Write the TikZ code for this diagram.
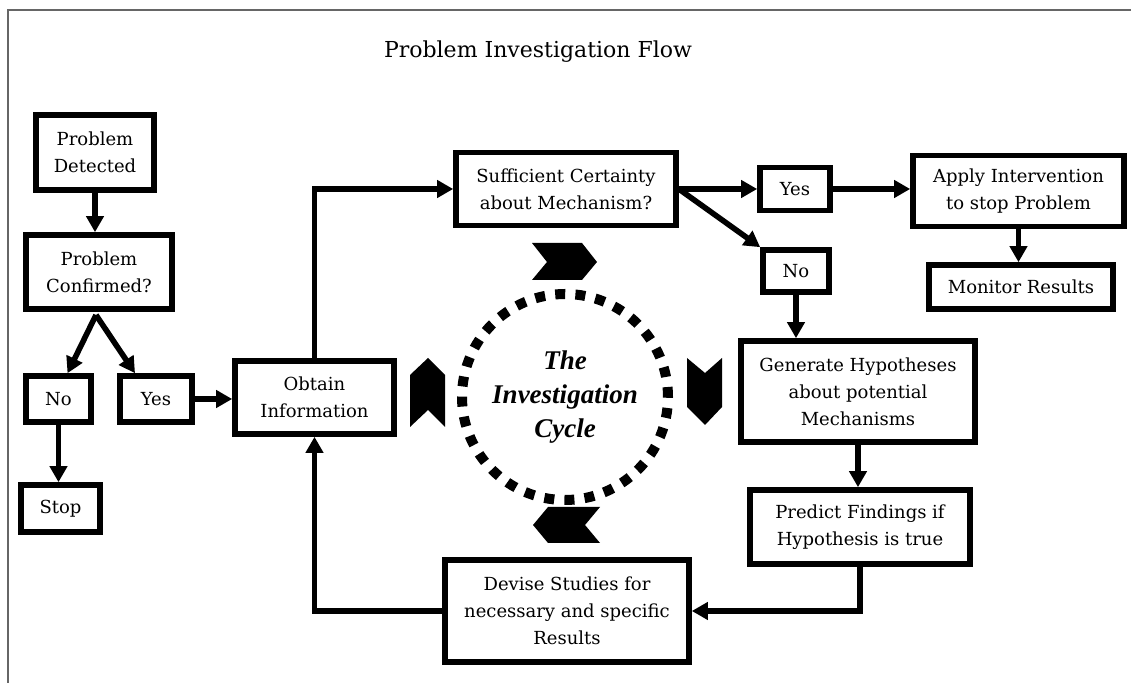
\documentclass[tikz,border=0pt]{standalone}
\usepackage{fontspec}
\setmainfont{DejaVu Serif}
\newfontfamily\cyclefont{Liberation Serif}
\usepackage{tikz}
\usetikzlibrary{arrows.meta}
\tikzstyle{flowBox} = [draw, rectangle, line width=2.8pt, align=center,
   inner sep=2pt, font=\fontsize{9}{13.5}\selectfont]
\tikzstyle{flowArrow} = [line width=2.8pt, -{Triangle[length=8pt,width=8.5pt]}]
\tikzstyle{cycleRing} = [draw, circle, line width=5pt,
   dash pattern=on 5pt off 5.1pt, minimum size=103pt, align=center,
   font=\cyclefont\fontsize{13.5}{17}\selectfont\bfseries\itshape]
\tikzstyle{chevronFill} = [fill=black]

\begin{document}
\begin{tikzpicture}[x=0.5pt, y=-0.5pt]
  \useasboundingbox (0,0) rectangle (1131,683);
  \draw[black!60, line width=0.8pt] (8,683) -- (8,10) -- (1131,10);
  \node[font=\fontsize{11}{14}\selectfont] (title) at (538,52) {Problem Investigation Flow};

  % left column
  \node[flowBox, minimum width=59pt, minimum height=37.5pt] (detected) at (95,152.5) {Problem\\Detected};
  \node[flowBox, minimum width=73pt, minimum height=37pt] (confirmed) at (99,272) {Problem\\Confirmed?};
  \coordinate (split) at (96,315);
  \node[flowBox, minimum width=32.5pt, minimum height=23pt] (noA) at (58.5,399) {No};
  \node[flowBox, minimum width=36pt, minimum height=23pt] (yesA) at (156,399) {Yes};
  \node[flowBox, minimum width=39.5pt, minimum height=23.5pt] (stop) at (60.5,508.5) {Stop};

  % the cycle
  \node[flowBox, minimum width=79.5pt, minimum height=36.5pt] (obtain) at (314.5,397.5) {Obtain\\Information};
  \node[flowBox, minimum width=110pt, minimum height=36.5pt] (certain) at (566,189) {Sufficient Certainty\\about Mechanism?};
  \node[flowBox, minimum width=33pt, minimum height=21pt] (noB) at (796,271) {No};
  \node[flowBox, minimum width=117pt, minimum height=50.5pt] (generate) at (858,391.5) {Generate Hypotheses\\about potential\\Mechanisms};
  \node[flowBox, minimum width=110pt, minimum height=37pt] (predict) at (860,527) {Predict Findings if\\Hypothesis is true};
  \node[flowBox, minimum width=122pt, minimum height=51pt] (devise) at (567,611) {Devise Studies for\\necessary and specific\\Results};
  \node[cycleRing] (ring) at (565,397) {The\\Investigation\\Cycle};

  % right side
  \node[flowBox, minimum width=35pt, minimum height=21.5pt] (yesB) at (795,189) {Yes};
  \node[flowBox, minimum width=105.5pt, minimum height=35.5pt] (apply) at (1018.5,191) {Apply Intervention\\to stop Problem};
  \node[flowBox, minimum width=92pt, minimum height=22pt] (monitor) at (1021,287) {Monitor Results};

  % chevrons round the ring
  \fill[chevronFill] (532,243) -- (582,243) -- (597,262) -- (582,280) -- (532,280) -- (547,262) -- cycle;
  \fill[chevronFill] (687,358) -- (705,373) -- (722,358) -- (722,407) -- (705,425) -- (687,407) -- cycle;
  \fill[chevronFill] (600,507) -- (548,507) -- (533,525) -- (548,543) -- (600,543) -- (585,525) -- cycle;
  \fill[chevronFill] (410,427) -- (410,375) -- (428,358) -- (445,375) -- (445,427) -- (428,410) -- cycle;

  % arrows
  \draw[flowArrow] (detected.south) -- (detected.south |- confirmed.north);
  \draw[flowArrow] (split) -- ([xshift=4.5pt]noA.north);
  \draw[flowArrow] (split) -- ([xshift=-10.5pt]yesA.north);
  \draw[flowArrow] (noA.south) -- (noA.south |- stop.north);
  \draw[flowArrow] (yesA.east) -- (yesA.east -| obtain.west);
  \draw[flowArrow] (obtain.north) |- (certain.west);
  \draw[flowArrow] (certain.east) -- (yesB.west);
  \draw[flowArrow] (yesB.east) -- (yesB.east -| apply.west);
  \draw[flowArrow] (apply.south) -- (apply.south |- monitor.north);
  \draw[flowArrow] (certain.east) -- (noB.north west);
  \draw[flowArrow] (noB.south) -- (noB.south |- generate.north);
  \draw[flowArrow] (generate.south) -- (generate.south |- predict.north);
  \draw[flowArrow] (predict.south) |- (devise.east);
  \draw[flowArrow] (devise.west) -| (obtain.south);
\end{tikzpicture}
\end{document}
